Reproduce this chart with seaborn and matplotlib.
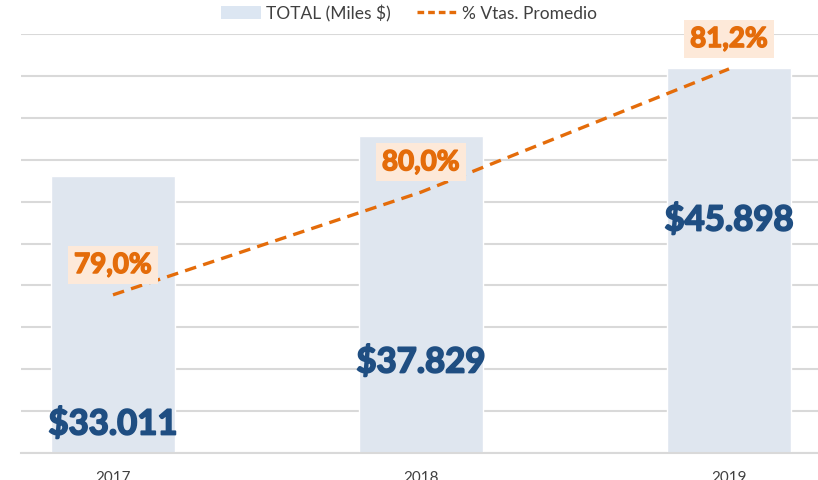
import numpy as np
import pandas as pd
import matplotlib
matplotlib.use("Agg")
import matplotlib.pyplot as plt
import matplotlib.patheffects as pe
from matplotlib.patches import Patch
from matplotlib.lines import Line2D
import seaborn as sns

# %% data
years = ["2017", "2018", "2019"]
total = [33011, 37829, 45898]
pct_sales = [79.0, 80.0, 81.2]
total_labels = ["$33.011", "$37.829", "$45.898"]
pct_labels = ["79,0%", "80,0%", "81,2%"]
# vertical centre of the value labels inside the bars (data units)
total_label_y = [3460, 10860, 27800]

bar_color = "#DCE6F2"
blue_text = "#1F4E82"
orange = "#E46C0A"
peach = "#FDE9D9"
grey_text = "#404040"

df = pd.DataFrame({"year": years, "total": total, "pct": pct_sales, "pos": np.arange(len(years))})

# %% plot
sns.set_style("white")
plt.rcParams["font.family"] = ["Liberation Sans Narrow", "Lato", "DejaVu Sans"]

fig = plt.figure(figsize=(8.18, 4.81), dpi=100)
ax = fig.add_axes([21 / 818, 27 / 481, 797 / 818, 419 / 481])

sns.barplot(df, x="pos", y="total", color=bar_color, width=0.4, ax=ax, native_scale=True)
ax.set_xlim(-0.2987, 2.289)
ax.set_ylim(0, 50000)
ax.set_yticks(np.arange(0, 50001, 5000))
ax.set_yticklabels([])
ax.tick_params(axis="y", length=0)
ax.yaxis.grid(True, color="#D9D9D9", linewidth=1.5)
ax.set_axisbelow(True)
ax.set_xticks(df.pos)
ax.set_xticklabels(years, fontsize=11, color=grey_text)
ax.tick_params(axis="x", length=0, pad=12)
ax.set_xlabel("")
ax.set_ylabel("")
for s in ["top", "right", "left"]:
    ax.spines[s].set_visible(False)
ax.spines["bottom"].set_color("#D9D9D9")
ax.spines["bottom"].set_linewidth(1.5)

# thicken the bold labels a little (Calibri bold look)
blue_fx = [pe.withStroke(linewidth=1.3, foreground=blue_text)]
orange_fx = [pe.withStroke(linewidth=1.1, foreground=orange)]

for p, lab, ly in zip(df.pos, total_labels, total_label_y):
    ax.text(p, ly, lab, ha="center", va="center", fontsize=25, fontweight="bold",
            color=blue_text, family=["Lato", "DejaVu Sans"], path_effects=blue_fx)

ax2 = ax.twinx()
sns.lineplot(df, x="pos", y="pct", ax=ax2, color=orange, linewidth=2.4)
ax2.lines[0].set_dashes([3.5, 2.2])
ax2.set_ylim(77.46, 81.54)
ax2.set_xlim(-0.2987, 2.289)
ax2.set_yticks([])
ax2.set_ylabel("")
ax2.set_xlabel("")
for s in ax2.spines.values():
    s.set_visible(False)

for p, lab, v in zip(df.pos, pct_labels, pct_sales):
    ax2.annotate(lab, (p, v), xytext=(0, 21.5), textcoords="offset points", ha="center", va="center",
                 fontsize=20, fontweight="bold", color=orange, family=["Lato", "DejaVu Sans"],
                 path_effects=orange_fx,
                 bbox=dict(boxstyle="square,pad=0.22", fc=peach, ec="none"))

handles = [Patch(facecolor=bar_color, edgecolor="none"),
           Line2D([0], [0], color=orange, linewidth=2.4, dashes=[2, 1.2])]
fig.legend(handles, ["TOTAL (Miles $)", "% Vtas. Promedio"], loc="center", bbox_to_anchor=(0.5, 0.971),
           ncol=2, frameon=False, fontsize=12.5, labelcolor=grey_text, handlelength=2.3,
           handleheight=0.8, columnspacing=1.5, handletextpad=0.3)

fig.savefig("out.png", dpi=100)
